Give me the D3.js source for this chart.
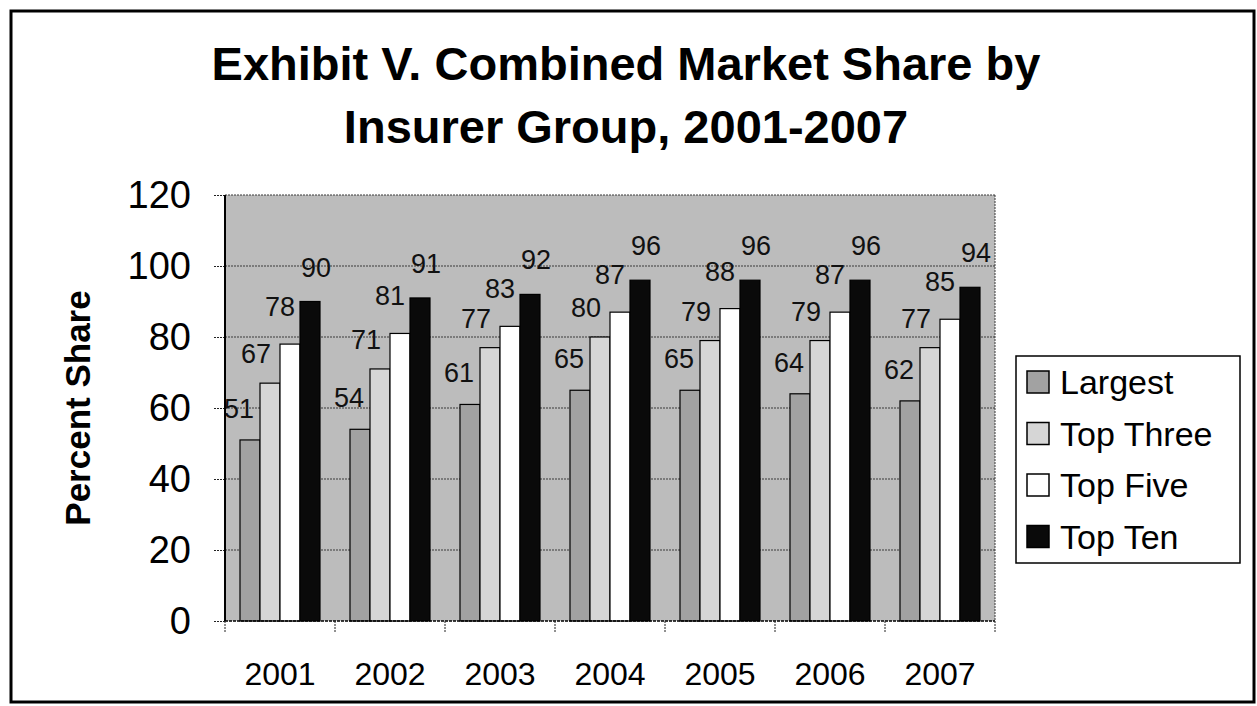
<!DOCTYPE html>
<html>
<head>
<meta charset="utf-8">
<script src="https://cdn.jsdelivr.net/npm/d3@7"></script>
<style>
  body { margin: 0; background: #fff; }
  text { font-family: "Liberation Sans", Arial, sans-serif; }
</style>
</head>
<body>
<svg id="chart" width="1257" height="706"></svg>
<script>
// chart data
const categories = ["2001", "2002", "2003", "2004", "2005", "2006", "2007"];
const seriesNames = ["Largest", "Top Three", "Top Five", "Top Ten"];
const largest = [51, 54, 61, 65, 65, 64, 62];
const topThree = [67, 71, 77, 80, 79, 79, 77];
const topFive = [78, 81, 83, 87, 88, 87, 85];
const topTen = [90, 91, 92, 96, 96, 96, 94];
const yTicks = [0, 20, 40, 60, 80, 100, 120];

const seriesValues = [largest, topThree, topFive, topTen];
const fills = ["#a2a2a2", "#d6d6d6", "#ffffff", "#0a0a0a"];
// Excel-style label placement: small shifts per series
const labelDx = [-11, -14, -10, 6];
const labelDy = [22, 20, 28, 25];

const svg = d3.select("#chart");
const width = 1257;
const height = 706;
const plot = { left: 225, right: 995, top: 195, bottom: 621 };

// outer frame
svg.append("rect")
  .attr("x", 11).attr("y", 11)
  .attr("width", width - 14).attr("height", height - 15)
  .attr("fill", "none")
  .attr("stroke", "#000")
  .attr("stroke-width", 3);

// title
const title = svg.append("text")
  .attr("text-anchor", "middle")
  .attr("font-size", 47)
  .attr("font-weight", "bold");
title.append("tspan").attr("x", 626).attr("y", 80).text("Exhibit V. Combined Market Share by");
title.append("tspan").attr("x", 626).attr("y", 143).text("Insurer Group, 2001-2007");

// scales
const x0 = d3.scaleBand()
  .domain(categories)
  .range([plot.left, plot.right])
  .paddingInner(30 / 110)
  .paddingOuter(15 / 110);

const x1 = d3.scaleBand()
  .domain(seriesNames)
  .range([0, x0.bandwidth()]);

const y = d3.scaleLinear()
  .domain([0, 120])
  .range([plot.bottom, plot.top]);

// plot background
svg.append("rect")
  .attr("x", plot.left).attr("y", plot.top)
  .attr("width", plot.right - plot.left)
  .attr("height", plot.bottom - plot.top)
  .attr("fill", "#bcbcbc");

// gridlines
svg.append("g")
  .selectAll("line")
  .data(yTicks.filter((d) => d > 0))
  .join("line")
  .attr("x1", plot.left).attr("x2", plot.right)
  .attr("y1", (d) => y(d)).attr("y2", (d) => y(d))
  .attr("stroke", "#3a3a3a")
  .attr("stroke-width", 1.2)
  .attr("stroke-dasharray", "2,1");

// right edge of plot
svg.append("line")
  .attr("x1", plot.right).attr("x2", plot.right)
  .attr("y1", plot.top).attr("y2", plot.bottom)
  .attr("stroke", "#3a3a3a")
  .attr("stroke-dasharray", "2,1");

// bars
const groups = svg.append("g")
  .selectAll("g")
  .data(categories)
  .join("g")
  .attr("transform", (d) => `translate(${x0(d)},0)`);

groups.selectAll("rect")
  .data((d, i) => seriesNames.map((s, k) => ({ s, k, v: seriesValues[k][i] })))
  .join("rect")
  .attr("x", (d) => x1(d.s))
  .attr("y", (d) => y(d.v))
  .attr("width", x1.bandwidth())
  .attr("height", (d) => y(0) - y(d.v))
  .attr("fill", (d) => fills[d.k])
  .attr("stroke", "#000")
  .attr("stroke-width", 1.2);

// value labels
groups.selectAll("text")
  .data((d, i) => seriesNames.map((s, k) => ({ s, k, v: seriesValues[k][i] })))
  .join("text")
  .attr("x", (d) => x1(d.s) + x1.bandwidth() / 2 + labelDx[d.k])
  .attr("y", (d) => y(d.v) - labelDy[d.k])
  .attr("text-anchor", "middle")
  .attr("font-size", 27)
  .attr("fill", "#111")
  .text((d) => d.v);

// y axis
const yAxis = svg.append("g")
  .attr("transform", `translate(${plot.left},0)`)
  .call(d3.axisLeft(y).tickValues(yTicks).tickSize(12).tickPadding(22));
yAxis.select(".domain").remove();
yAxis.selectAll(".tick line")
  .attr("stroke", "#222")
  .attr("stroke-dasharray", "2,1");
yAxis.selectAll(".tick text")
  .attr("font-size", 38)
  .attr("font-family", "Liberation Sans, Arial, sans-serif")
  .attr("fill", "#000");

svg.append("line")
  .attr("x1", plot.left).attr("x2", plot.left)
  .attr("y1", plot.top).attr("y2", plot.bottom)
  .attr("stroke", "#000")
  .attr("stroke-width", 2);

// x axis
const xAxis = svg.append("g")
  .attr("transform", `translate(0,${plot.bottom})`)
  .call(d3.axisBottom(x0).tickSize(0).tickPadding(41));
xAxis.select(".domain").remove();
xAxis.selectAll(".tick text")
  .attr("font-size", 32)
  .attr("font-family", "Liberation Sans, Arial, sans-serif")
  .attr("fill", "#000");

svg.append("line")
  .attr("x1", plot.left).attr("x2", plot.right)
  .attr("y1", plot.bottom).attr("y2", plot.bottom)
  .attr("stroke", "#000")
  .attr("stroke-width", 1.5)
  .attr("stroke-dasharray", "3,1");

// category boundary ticks
svg.append("g")
  .selectAll("line")
  .data(d3.range(categories.length + 1))
  .join("line")
  .attr("x1", (i) => plot.left + i * x0.step())
  .attr("x2", (i) => plot.left + i * x0.step())
  .attr("y1", plot.bottom).attr("y2", plot.bottom + 12)
  .attr("stroke", "#222")
  .attr("stroke-dasharray", "2,1");

// y axis title
svg.append("text")
  .attr("transform", `translate(90,${(plot.top + plot.bottom) / 2}) rotate(-90)`)
  .attr("text-anchor", "middle")
  .attr("font-size", 35)
  .attr("font-weight", "bold")
  .text("Percent Share");

// legend
const legend = svg.append("g").attr("transform", "translate(1016,356)");
legend.append("rect")
  .attr("width", 224).attr("height", 207)
  .attr("fill", "#fff")
  .attr("stroke", "#000")
  .attr("stroke-width", 1.5);

const items = legend.selectAll("g")
  .data(seriesNames)
  .join("g")
  .attr("transform", (d, i) => `translate(11,${26 + i * 51.5})`);

items.append("rect")
  .attr("y", -11)
  .attr("width", 22).attr("height", 22)
  .attr("fill", (d, i) => fills[i])
  .attr("stroke", "#000")
  .attr("stroke-width", 1.5);

items.append("text")
  .attr("x", 33)
  .attr("y", 12)
  .attr("font-size", 34)
  .text((d) => d);
</script>
</body>
</html>
